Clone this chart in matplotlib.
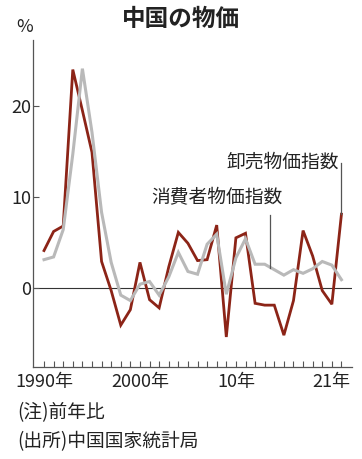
import matplotlib
matplotlib.use("Agg")
import matplotlib.pyplot as plt
from matplotlib.transforms import ScaledTranslation

plt.rcParams['font.family'] = ['Noto Sans CJK JP', 'DejaVu Sans']

years = list(range(1990, 2022))
cpi = [3.1, 3.4, 6.4, 14.7, 24.1, 17.1, 8.3, 2.8, -0.8, -1.4, 0.4, 0.7, -0.8, 1.2,
       3.9, 1.8, 1.5, 4.8, 5.9, -0.7, 3.3, 5.4, 2.6, 2.6, 2.0, 1.4, 2.0, 1.6, 2.1,
       2.9, 2.5, 0.9]
ppi = [4.1, 6.2, 6.8, 24.0, 19.5, 14.9, 2.9, -0.3, -4.1, -2.4, 2.8, -1.3, -2.2, 2.3,
       6.1, 4.9, 3.0, 3.1, 6.9, -5.4, 5.5, 6.0, -1.7, -1.9, -1.9, -5.2, -1.4, 6.3,
       3.5, -0.3, -1.8, 8.1]
xtick_pos = [1990, 2000, 2010, 2021]
xtick_labels = ["1990年", "2000年", "10年", "21年"]
ytick_pos = [0, 10, 20]
ytick_labels = ["0", "10", "20"]

W, H = 362, 459
fig = plt.figure(figsize=(W / 100, H / 100), dpi=100)
ax = fig.add_axes([32.5 / W, 1 - 367 / H, (352 - 32.5) / W, (367 - 40) / H])

red = "#8c2417"
gray = "#b9b9b9"
ax.axhline(0, color="#333333", lw=0.8, zorder=1)
ax.plot(years, ppi, color=red, lw=2.0, zorder=2, solid_joinstyle="miter")
ax.plot(years, cpi, color=gray, lw=2.2, zorder=3, solid_joinstyle="miter")

ax.set_xlim(1988.8, 2022.1)
ax.set_ylim(-8.7, 27.25)

for s in ["top", "right"]:
    ax.spines[s].set_visible(False)
for s in ["left", "bottom"]:
    ax.spines[s].set_color("#555555")
    ax.spines[s].set_linewidth(0.9)

ax.set_xticks(xtick_pos)
ax.set_xticklabels(xtick_labels, fontsize=13)
ax.set_xticks(years, minor=True)
ax.tick_params(axis="x", which="both", direction="in", length=4, width=0.8,
               color="#555555", pad=4)
ax.set_yticks(ytick_pos)
ax.set_yticklabels(ytick_labels, fontsize=13)
ax.tick_params(axis="y", direction="in", length=4, width=0.8, color="#555555", pad=1)
for lab in ax.get_xticklabels() + ax.get_yticklabels():
    lab.set_color("#222222")

last = ax.get_xticklabels()[-1]
last.set_transform(last.get_transform() + ScaledTranslation(-10 / 100, 0, fig.dpi_scale_trans))

# labels with leader lines
ax.text(2014.9, 9.9, "消費者物価指数", fontsize=13.5, ha="right", va="center", color="#222222")
ax.plot([2013.6, 2013.6], [8.0, 2.2], color="#555555", lw=0.9, zorder=4)
ax.text(2020.7, 13.8, "卸売物価指数", fontsize=13.5, ha="right", va="center", color="#222222")
ax.plot([2021, 2021], [13.7, 8.1], color="#555555", lw=0.9, zorder=4)

fig.text(181 / W, 1 - 19 / H, "中国の物価", fontsize=17, fontweight="bold",
         ha="center", va="center", color="#222222")
fig.text(25 / W, 1 - 27 / H, "%", fontsize=13, ha="center", va="center", color="#222222")
fig.text(17 / W, 1 - 413 / H, "(注)前年比", fontsize=13.5, ha="left", va="center", color="#222222")
fig.text(17 / W, 1 - 442 / H, "(出所)中国国家統計局", fontsize=13.5, ha="left", va="center",
         color="#222222")

fig.savefig("out.png", dpi=100)
